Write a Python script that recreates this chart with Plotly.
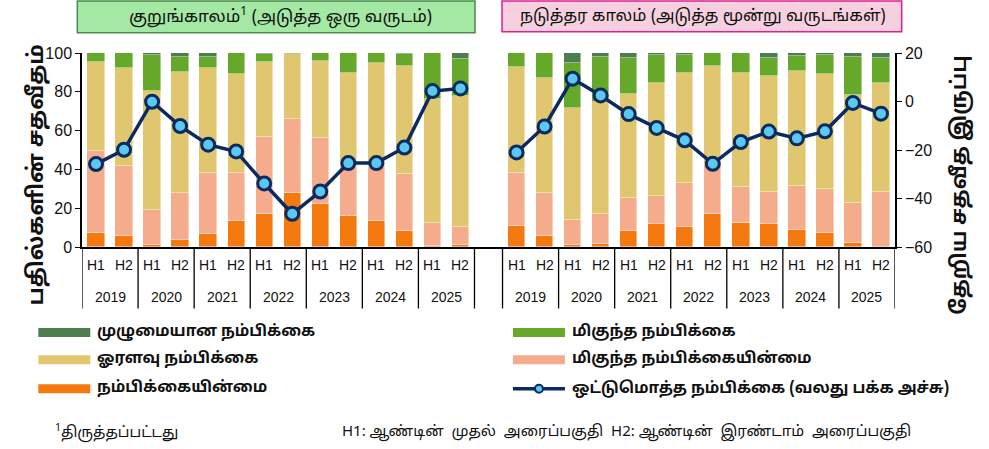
import plotly.graph_objects as go

halves = ["H1", "H2"] * 7
years = ["2019", "2020", "2021", "2022", "2023", "2024", "2025"]

# Short term (next one year)
st_none = [7.2, 5.7, 0.9, 3.6, 6.9, 13.4, 16.9, 27.8, 22.2, 16.0, 13.4, 8.1, 0.3, 1.2]
st_highnone = [42.1, 35.9, 18.2, 24.0, 31.0, 25.0, 39.7, 38.4, 33.8, 25.0, 27.6, 29.5, 12.3, 9.0]
st_mod = [45.9, 50.5, 61.4, 62.7, 54.2, 50.6, 38.6, 33.1, 39.9, 48.8, 53.7, 55.7, 63.6, 67.7]
st_high = [4.8, 7.9, 18.5, 7.8, 6.0, 11.0, 4.1, 0.7, 4.1, 10.2, 5.3, 6.0, 23.8, 19.2]
st_full = [0, 0, 1.0, 1.9, 1.9, 0, 0.7, 0, 0, 0, 0, 0.7, 0, 2.9]
st_net = [-25.8, -19.9, -0.1, -10.1, -17.8, -20.6, -33.8, -46.3, -37.1, -25.4, -25.4, -19.0, 4.3, 5.4]

# Medium term (next three years)
mt_none = [10.9, 5.7, 0.9, 1.7, 8.4, 11.7, 10.2, 17.1, 12.4, 11.9, 8.8, 7.4, 2.1, 0.0]
mt_highnone = [27.4, 22.1, 13.1, 15.4, 16.9, 14.7, 22.7, 25.0, 18.3, 16.2, 22.9, 22.3, 20.8, 28.1]
mt_mod = [54.5, 59.1, 57.4, 57.9, 53.5, 58.1, 56.6, 51.0, 59.1, 60.0, 59.2, 59.6, 55.6, 56.2]
mt_high = [7.2, 13.1, 23.3, 23.1, 18.4, 14.5, 9.5, 6.9, 10.2, 9.5, 7.4, 9.5, 19.4, 12.9]
mt_full = [0, 0, 5.3, 1.9, 2.8, 1.0, 1.0, 0, 0, 2.4, 1.7, 1.2, 2.2, 2.8]
mt_net = [-21.0, -10.3, 9.4, 2.5, -5.2, -10.9, -16.0, -25.7, -16.7, -12.4, -15.2, -12.3, -0.6, -5.0]

series_names = ["நம்பிக்கையின்மை", "மிகுந்த நம்பிக்கையின்மை", "ஓரளவு நம்பிக்கை",
                "மிகுந்த நம்பிக்கை", "முழுமையான நம்பிக்கை"]
line_name = "ஒட்டுமொத்த நம்பிக்கை (வலது பக்க அச்சு)"
colors = ["#F47A10", "#F4AC8C", "#E1C670", "#66A829", "#4E7D4F"]
navy = "#0B2A5F"
FONT = "Noto Sans Tamil, Noto Sans, Liberation Sans, sans-serif"
NUMFONT = "Liberation Sans, Arial, sans-serif"

n = len(halves)
x_left = list(range(n))
x_right = [n + 1 + i for i in range(n)]
x_all = x_left + x_right

fig = go.Figure()
st = [st_none, st_highnone, st_mod, st_high, st_full]
mt = [mt_none, mt_highnone, mt_mod, mt_high, mt_full]
for k in range(5):
    fig.add_trace(go.Bar(
        x=x_all, y=st[k] + mt[k], name=series_names[k],
        marker=dict(color=colors[k], line=dict(color="rgba(255,255,255,0.55)", width=0.8)),
        width=0.62, showlegend=False, yaxis="y"))

# net balance line, broken between the two panels
fig.add_trace(go.Scatter(
    x=x_left + [n] + x_right, y=st_net + [None] + mt_net, mode="lines+markers",
    line=dict(color=navy, width=3.5),
    marker=dict(size=13, color="#5BC8F0", line=dict(color=navy, width=3)),
    connectgaps=False, showlegend=False, yaxis="y2"))

L, R, T, B = 81.7, 895.3, 53.3, 246.7
W, H = R - L, B - T
def px(xp): return (xp - L) / W
def py(yp): return (B - yp) / H

def ann(x, y, text, size, xref="paper", xanchor="center", angle=0, family=FONT):
    return dict(x=x, y=y, xref=xref, yref="paper", text=text, showarrow=False,
                xanchor=xanchor, yanchor="middle", textangle=angle,
                font=dict(size=size, color="#111", family=family))

shapes = []
annotations = []
# category labels and separators
for i, xi in enumerate(x_all):
    annotations.append(ann(xi, py(265), halves[i % n], 14, xref="x", family=NUMFONT))
for g in range(2):
    base = 0 if g == 0 else n + 1
    for j, yr in enumerate(years):
        annotations.append(ann(base + 2 * j + 0.5, py(297), yr, 14, xref="x", family=NUMFONT))
    for j in range(len(years) + 1):
        xb = base + 2 * j - 0.5
        shapes.append(dict(type="line", xref="x", yref="paper", x0=xb, x1=xb, y0=0, y1=py(308),
                           line=dict(color="black", width=1.3)))

# title boxes
shapes.append(dict(type="rect", xref="paper", yref="paper", x0=px(77), x1=px(475), y0=py(33), y1=py(1.5),
                   fillcolor="#A3E8A3", line=dict(color="#4E8A4E", width=1.5)))
shapes.append(dict(type="rect", xref="paper", yref="paper", x0=px(502), x1=px(902), y0=py(32), y1=py(1.5),
                   fillcolor="#F7D0E0", line=dict(color="#E0208E", width=1.5)))
annotations.append(ann(px(280), py(17), "குறுங்காலம்<sup>1</sup> (அடுத்த ஒரு வருடம்)", 17))
annotations.append(ann(px(703), py(17), "நடுத்தர காலம் (அடுத்த மூன்று வருடங்கள்)", 16.5))

# axis titles
annotations.append(ann(px(37), py(175), "<b>பதில்களின் சதவீதம்</b>", 22, angle=-90))
annotations.append(ann(px(960), py(185), "<b>தேறிய சதவீத இருப்பு</b>", 21, angle=-90))

# custom legend
legend_items = [
    (38, 332, colors[4], series_names[4]), (513, 332, colors[3], series_names[3]),
    (38, 359, colors[2], series_names[2]), (513, 359, colors[1], series_names[1]),
    (38, 388, colors[0], series_names[0]),
]
for x0, y0, c, t in legend_items:
    shapes.append(dict(type="rect", xref="paper", yref="paper", x0=px(x0), x1=px(x0 + 52),
                       y0=py(y0 + 4.5), y1=py(y0 - 4.5), fillcolor=c, line=dict(width=0)))
    annotations.append(ann(px(x0 + 57), py(y0), "<b>" + t + "</b>", 15.5, xanchor="left"))
shapes.append(dict(type="line", xref="paper", yref="paper", x0=px(513), x1=px(565), y0=py(388), y1=py(388),
                   line=dict(color=navy, width=3.5)))
shapes.append(dict(type="circle", xref="paper", yref="paper", x0=px(535), x1=px(543), y0=py(392), y1=py(384),
                   fillcolor="#5BC8F0", line=dict(color=navy, width=2)))
annotations.append(ann(px(570), py(388), "<b>" + line_name + "</b>", 15.5, xanchor="left"))

# footnotes
sp = "&nbsp;&nbsp;"
annotations.append(ann(px(53), py(432), "<sup>1</sup>திருத்தப்பட்டது", 15, xanchor="left"))
annotations.append(ann(px(340), py(432),
                       "H1: ஆண்டின்" + sp + "முதல்" + sp + "அரைப்பகுதி" + sp + "H2: ஆண்டின்" + sp
                       + "இரண்டாம்" + sp + "அரைப்பகுதி",
                       15, xanchor="left"))

fig.update_layout(
    width=989, height=449, barmode="stack", bargap=0,
    plot_bgcolor="white", paper_bgcolor="white",
    margin=dict(l=L, r=989 - R, t=T, b=449 - B),
    font=dict(family=FONT, color="#111"),
    xaxis=dict(range=[-0.5, 2 * n + 0.5], showticklabels=False, ticks="", showgrid=False, zeroline=False,
               showline=True, linecolor="black", linewidth=1.5, fixedrange=True),
    yaxis=dict(range=[0, 100], tickvals=[0, 20, 40, 60, 80, 100], showgrid=False, zeroline=False,
               showline=True, linecolor="black", linewidth=1.5, ticks="outside", ticklen=5,
               tickcolor="black", tickfont=dict(size=16, color="#111", family=NUMFONT)),
    yaxis2=dict(range=[-60, 20], tickvals=[-60, -40, -20, 0, 20], overlaying="y", side="right",
                showgrid=False, zeroline=False, showline=True, linecolor="black", linewidth=1.5,
                ticks="outside", ticklen=5, tickcolor="black",
                tickfont=dict(size=16, color="#111", family=NUMFONT)),
    shapes=shapes, annotations=annotations,
)

fig.write_html("out.html", config={"displayModeBar": False},
               post_script="document.body.style.margin='0';")
